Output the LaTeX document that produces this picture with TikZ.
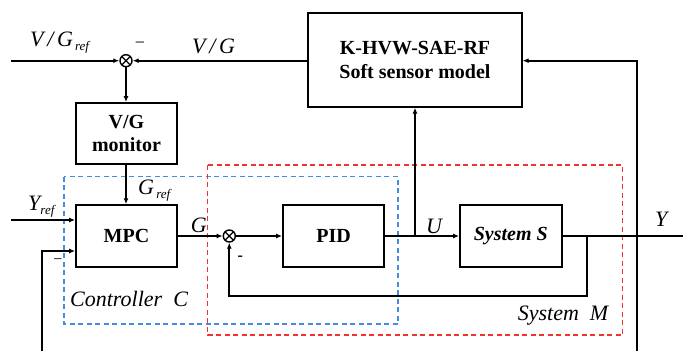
\documentclass[tikz,border=0pt]{standalone}
\usepackage{fontspec}
\setmainfont{Liberation Serif}
\usetikzlibrary{arrows.meta}
\definecolor{dred}{RGB}{240,50,50}
\definecolor{dblue}{RGB}{70,140,225}
\begin{document}
\begin{tikzpicture}[x=1pt,y=-1pt,
  blk/.style={draw, line width=1.8pt, inner sep=0pt, align=center,
    font=\bfseries\fontsize{20}{23.5}\selectfont},
  sumj/.style={circle, draw, line width=1.4pt, minimum size=12pt, inner sep=0pt,
    path picture={\draw[line width=1.2pt] (path picture bounding box.north west) -- (path picture bounding box.south east)
      (path picture bounding box.north east) -- (path picture bounding box.south west);}},
  conn/.style={line width=1.8pt},
  arr/.style={conn, -{Latex[length=6pt,width=5pt]}},
  lab/.style={inner sep=0pt, anchor=base west, font=\itshape\fontsize{22}{24}\selectfont},
  sub/.style={font=\itshape\fontsize{13}{14}\selectfont},
  dbox/.style={line width=1.3pt, dash pattern=on 5pt off 3.5pt}]
\useasboundingbox (0,0) rectangle (683,351);
% dashed group boxes
\draw[dbox, dblue] (64,176.7) rectangle (398,324);
\draw[dbox, dred] (207.7,165) rectangle (622.7,335);
% blocks
\node[blk, minimum width=213.5pt, minimum height=93.5pt] (sensor) at (415,60) {K-HVW-SAE-RF\\Soft sensor model};
\node[blk, minimum width=101pt, minimum height=61pt] (vgm) at (126.5,133.5) {V/G\\monitor};
\node[blk, minimum width=101pt, minimum height=61.7pt] (mpc) at (126.5,236) {MPC};
\node[blk, minimum width=101pt, minimum height=61.7pt] (pid) at (333.5,236) {PID};
\node[blk, minimum width=101.7pt, minimum height=61.7pt, font=\bfseries\itshape\fontsize{20}{23.5}\selectfont] (sys) at (510.8,236) {System S};
\node[sumj] (s1) at (126,60.7) {};
\node[sumj] (s2) at (229.3,236) {};
% coordinates
\coordinate (vgin) at (11,60.7);
\coordinate (yrefin) at (11,220);
\coordinate (fbL) at (42,351);
\coordinate (in2y) at (0,251);
\coordinate (ubr) at (415,236);
\coordinate (ybr) at (586.7,236);
\coordinate (fby) at (0,296);
\coordinate (yout) at (683,236);
\coordinate (fbR) at (637,351);
% connectors
\draw[arr] (vgin) -- (s1.west);
\draw[arr] (sensor.west |- s1) -- (s1.east);
\draw[arr] (s1.south) -- (vgm.north -| s1);
\draw[arr] (vgm.south -| s1) -- (mpc.north -| s1);
\draw[arr] (yrefin) -- (yrefin -| mpc.west);
\draw[arr] (fbL) |- (mpc.west |- in2y);
\draw[arr] (mpc.east) -- (s2.west);
\draw[arr] (s2.east) -- (pid.west);
\draw[arr] (pid.east) -- (sys.west);
\draw[arr] (ubr) -- (sensor.south);
\draw[conn] (sys.east) -- (yout);
\draw[arr] (ybr) -- (ybr |- fby) -| (s2.south);
\draw[arr] (fbR) |- (sensor.east |- s1);
% labels
\node[lab] (lvgref) at (30,46.7) {V\,/\,G\raisebox{-4pt}{\fontsize{13}{14}\selectfont\,ref}};
\node[lab] (lvg) at (192,53.3) {V\,/\,G};
\node[lab] (lgref) at (138,194) {G\raisebox{-4pt}{\fontsize{13}{14}\selectfont\,ref}};
\node[lab] (lyref) at (28,210.7) {Y\raisebox{-4pt}{\fontsize{13}{14}\selectfont ref}};
\node[lab] (lg) at (190.7,232.3) {G};
\node[lab] (lu) at (426,233.3) {U};
\node[lab] (ly) at (655,226) {Y};
\node[lab] (lctrl) at (70,306.7) {Controller~~C};
\node[lab] (lsysm) at (517.7,320) {System~~M};
\node[inner sep=0pt, font=\fontsize{18}{20}\selectfont] (m1) at (140,45) {−};
\node[inner sep=0pt, font=\fontsize{16}{18}\selectfont] (m2) at (58,261.7) {−};
\node[inner sep=0pt, font=\bfseries\fontsize{16}{18}\selectfont] (m3) at (240.2,258.3) {-};
\end{tikzpicture}
\end{document}
